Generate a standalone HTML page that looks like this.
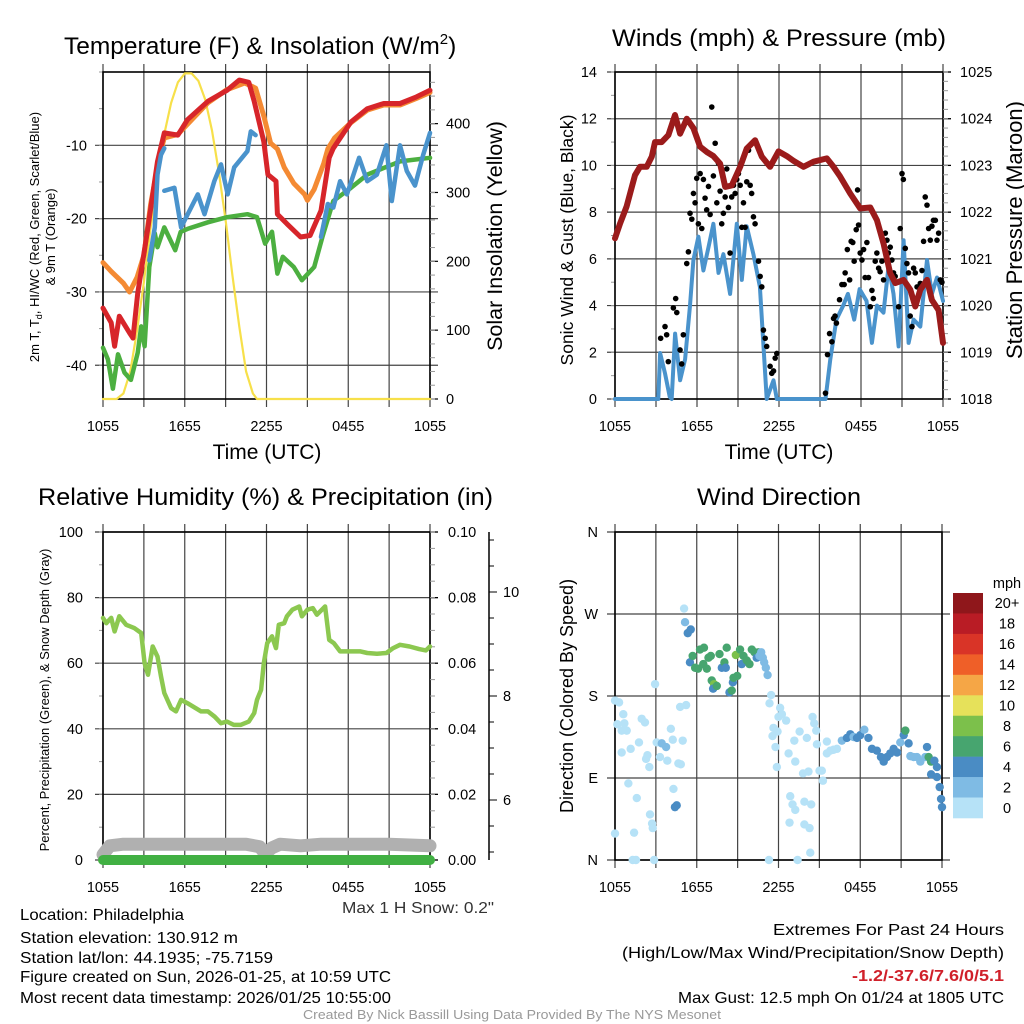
<!DOCTYPE html>
<html><head><meta charset="utf-8"><style>
html,body{margin:0;padding:0;background:#fff;}
svg{display:block;font-family:"Liberation Sans",sans-serif;}
</style></head><body>
<svg id="fig" width="1024" height="1024" viewBox="0 0 1024 1024" xmlns="http://www.w3.org/2000/svg">
<rect width="1024" height="1024" fill="#fff"/>
<text x="64" y="54" font-size="24.5">Temperature (F) &amp; Insolation (W/m<tspan font-size="15" dy="-10">2</tspan><tspan dy="10">)</tspan></text>
<text x="612" y="46" font-size="24.5" textLength="334" lengthAdjust="spacingAndGlyphs">Winds (mph) &amp; Pressure (mb)</text>
<text x="38" y="505" font-size="24.5" textLength="455" lengthAdjust="spacingAndGlyphs">Relative Humidity (%) &amp; Precipitation (in)</text>
<text x="697" y="505" font-size="24.5" textLength="164" lengthAdjust="spacingAndGlyphs">Wind Direction</text>
<text x="267" y="459" font-size="21" text-anchor="middle">Time (UTC)</text>
<text x="779" y="459" font-size="21" text-anchor="middle">Time (UTC)</text>
<text transform="translate(39,237) rotate(-90)" font-size="13" text-anchor="middle">2m T, T<tspan font-size="9" dy="3">d</tspan><tspan dy="-3">, HI/WC (Red, Green, Scarlet/Blue)</tspan></text>
<text transform="translate(55,237) rotate(-90)" font-size="13" text-anchor="middle">&amp; 9m T (Orange)</text>
<text transform="translate(502,236) rotate(-90)" font-size="21.5" text-anchor="middle">Solar Insolation (Yellow)</text>
<text transform="translate(573,240) rotate(-90)" font-size="17.5" text-anchor="middle">Sonic Wind &amp; Gust (Blue, Black)</text>
<text transform="translate(1022,230) rotate(-90)" font-size="22" text-anchor="middle">Station Pressure (Maroon)</text>
<text transform="translate(49,700) rotate(-90)" font-size="13" text-anchor="middle">Percent, Precipitation (Green), &amp; Snow Depth (Gray)</text>
<text transform="translate(573,696) rotate(-90)" font-size="18" text-anchor="middle">Direction (Colored By Speed)</text>
<text x="342" y="913" font-size="16" fill="#333" textLength="152" lengthAdjust="spacingAndGlyphs">Max 1 H Snow: 0.2"</text>
<g font-size="16">
<text x="20" y="920" textLength="164" lengthAdjust="spacingAndGlyphs">Location: Philadelphia</text>
<text x="20" y="943" textLength="218" lengthAdjust="spacingAndGlyphs">Station elevation: 130.912 m</text>
<text x="20" y="963" textLength="253" lengthAdjust="spacingAndGlyphs">Station lat/lon: 44.1935; -75.7159</text>
<text x="20" y="982" textLength="371" lengthAdjust="spacingAndGlyphs">Figure created on Sun, 2026-01-25, at 10:59 UTC</text>
<text x="20" y="1003" textLength="371" lengthAdjust="spacingAndGlyphs">Most recent data timestamp: 2026/01/25 10:55:00</text>
</g>
<g font-size="16">
<text x="773" y="935" textLength="231" lengthAdjust="spacingAndGlyphs">Extremes For Past 24 Hours</text>
<text x="622" y="958" textLength="382" lengthAdjust="spacingAndGlyphs">(High/Low/Max Wind/Precipitation/Snow Depth)</text>
<text x="852" y="981" fill="#d0202a" font-weight="bold" textLength="152" lengthAdjust="spacingAndGlyphs">-1.2/-37.6/7.6/0/5.1</text>
<text x="678" y="1003" textLength="326" lengthAdjust="spacingAndGlyphs">Max Gust: 12.5 mph On 01/24 at 1805 UTC</text>
</g>
<text x="303" y="1019" font-size="12.5" fill="#999" textLength="418" lengthAdjust="spacingAndGlyphs">Created By Nick Bassill Using Data Provided By The NYS Mesonet</text>
<g id="layer"></g>
</svg>
<script>
// ---- data ----
const timeLabels = ["1055","1655","2255","0455","1055"];
const tRedH = [0,0.6,0.85,1.2,1.95,2.2,2.55,3.3,4.0,4.5,5.5,6.2,7.7,9.1,10.0,10.7,11.1,11.8,12.1,12.7,12.8,13.5,14.5,15.2,16.0,16.6,16.9,18.2,19.4,20.6,21.8,23.0,24];
const tRedV = [-32.2,-34.2,-37.4,-33.3,-35.6,-36.3,-30.2,-21.2,-12.2,-8.3,-8.6,-6.5,-4,-2.5,-1.1,-1.4,-4,-9.5,-14,-14.9,-19.4,-20.7,-22.5,-22.3,-18.9,-11.7,-10.4,-6.8,-5,-4.3,-4.3,-3.4,-2.5];
const tOrgH = [0,0.6,1.5,1.95,2.5,3,3.5,4.2,4.5,5.5,7.7,9.1,10.4,11.2,11.8,12.3,12.8,13.3,14,14.8,15.0,15.5,16.2,16.5,17,18.2,19.4,20.6,21.8,23.0,24];
const tOrgV = [-26,-27.2,-28.8,-30,-28,-25,-18,-11,-9,-8.5,-4.2,-2.4,-1.5,-2.2,-6,-9.7,-10.5,-13,-15.2,-16.7,-17.5,-16,-12.5,-10.5,-9,-6.9,-5.2,-4.5,-4.5,-3.6,-2.8];
const tGrnH = [0,0.36,0.73,1.1,1.58,2.05,2.55,2.8,3.05,3.4,3.8,4.0,4.5,5.3,5.7,6.2,7.7,9.1,10.6,11.3,11.9,12.4,12.8,13.2,14.0,14.6,15.5,16.1,16.9,18.2,19.4,21.8,24];
const tGrnV = [-37.6,-39.2,-43.2,-38.5,-41,-42,-38.3,-34.7,-37.4,-26.6,-22,-23.9,-21.2,-24.3,-21.8,-21.4,-20.5,-19.8,-19.4,-19.8,-23.4,-21.8,-27.5,-25.2,-26.6,-28.4,-26.6,-22.5,-17.6,-15.8,-14,-12.2,-11.7];
const tBlu1H = [3.4,3.8,4.0,4.26,4.5];
const tBlu1V = [-25.7,-21.2,-14,-11.3,-10.4];
const tBlu2H = [4.5,5.24,5.73,6.22,6.96,7.45,8.17,8.66,9.15,9.63,10.6,10.85,11.2];
const tBlu2V = [-16.2,-15.8,-21.2,-19.4,-16.7,-19.4,-14.9,-12.6,-16.7,-13,-10.8,-8.1,-8.6];
const tBlu3H = [16.0,16.5,16.9,17.4,17.9,18.8,19.4,20.1,20.8,21.2,21.8,22.3,22.9,23.5,24];
const tBlu3V = [-22.5,-18,-18.5,-14.9,-16.7,-11.7,-14.9,-14,-10,-17.6,-10,-13.5,-15.5,-11.3,-8.3];
const solarH = [0,1.0,1.5,2,2.5,3,3.5,4,4.5,5,5.5,6,6.5,7,7.5,8,8.5,9,9.5,10,10.5,11,11.3,24];
const solarV = [0,0,8,40,100,170,250,320,385,430,460,473,473,462,435,390,330,260,180,105,40,8,0,0];

const presH = [0,.37,.85,1.46,1.83,2.32,2.69,2.93,3.42,3.91,4.39,4.76,5.25,5.74,6.23,6.71,7.2,7.69,8.06,8.54,9.16,9.64,10.25,10.74,11.35,11.96,12.57,13.06,13.79,14.53,15.5,15.99,16.48,17.21,17.94,18.68,19.16,19.65,20.14,20.51,21.12,21.61,21.97,22.34,22.83,23.19,23.68,24];
const presV = [1021.44,1021.76,1022.12,1022.79,1022.97,1022.97,1023.19,1023.5,1023.5,1023.65,1024.08,1023.68,1024.0,1023.8,1023.4,1023.29,1023.2,1023.04,1022.54,1022.57,1022.97,1023.36,1023.54,1023.19,1022.97,1023.3,1023.2,1023.1,1022.97,1023.08,1023.15,1022.97,1022.76,1022.4,1022.08,1022.1,1021.83,1021.33,1020.69,1020.48,1020.55,1020.34,1019.98,1020.34,1020.55,1020.12,1019.9,1019.2];
const windH = [0,3.17,3.3,3.66,4.0,4.15,4.4,4.76,5.13,5.49,5.74,6.1,6.47,6.84,7.2,7.57,7.93,8.42,8.91,9.28,9.64,10.13,10.6,11.1,11.6,11.84,15.4,15.75,16.2,16.7,17.04,17.5,17.9,18.4,18.8,19.17,19.65,20.02,20.38,20.75,21.12,21.48,21.85,22.34,22.83,23.19,23.56,24];
const windV = [0,0,1.97,1.1,0.1,0,2.8,0.8,1.7,4.0,5.95,6.95,5.5,6.5,7.5,5.4,6.2,4.5,7.5,5.1,7.4,6.2,4.8,0,0.8,0,0,1.7,3.4,4,4.5,3.4,4.7,4.2,2.4,4,3.7,5.7,4.5,2.25,6.8,2.4,3.4,3.1,5.95,4.5,5.2,4.2];
const gustH = [3.34,3.66,3.78,3.9,4.27,4.44,4.52,4.76,4.88,5,5.25,5.37,5.49,5.62,5.74,5.86,5.98,6.1,6.23,6.35,6.47,6.59,6.71,6.84,6.96,7.08,7.2,7.33,7.45,7.57,7.69,7.81,7.93,8.06,8.18,8.3,8.42,8.54,8.67,8.79,8.91,9.03,9.16,9.28,9.4,9.52,9.64,9.77,9.89,10,10.13,10.25,10.5,10.62,10.74,10.86,10.99,11.1,11.35,11.47,11.6,11.72,11.84,15.4,15.55,15.7,15.87,15.99,16.1,16.2,16.43,16.6,16.77,16.84,17,17.17,17.28,17.4,17.5,17.65,17.75,17.82,17.94,18.07,18.19,18.3,18.43,18.55,18.68,18.8,18.9,19.04,19.16,19.29,19.4,19.53,19.65,19.78,19.9,20,20.14,20.26,20.38,20.5,20.75,20.87,21,21.1,21.24,21.36,21.48,21.6,21.73,21.85,21.97,22.1,22.34,22.46,22.58,22.7,22.83,22.95,23.07,23.19,23.3,23.44,23.56,23.68,23.8,23.92];
const gustV = [2.6,3.1,2.75,1.6,3.9,4.3,3.7,2.1,1.5,2.75,5.8,6.3,7.95,7.7,8.8,8.4,9.45,7.5,9.65,7.3,9.4,8.6,8.1,9.1,7.9,12.5,9.55,10.95,8.4,10.1,8.9,7.5,7.95,8.65,9.85,8.2,6.25,8.65,9.15,8.8,9.4,9.65,9.15,7.35,8.4,7.35,9.3,10.65,9.15,8.8,7.8,7.5,5.9,5.25,4.8,2.95,2.6,2.25,1.4,1.1,1.2,1.75,1.95,0.25,1.9,2.8,2.45,3.45,3.55,3.25,4.25,4.9,4.9,5.4,6.4,5.1,6.75,6.7,5.9,7.25,8.95,7.45,6.25,5.95,6.4,5.2,6.7,5.2,3.95,4.65,4.3,5.9,6.25,5.6,5.45,5.9,5.1,7.1,6.8,6.25,6.5,5.95,5.4,5.25,3.95,7.3,9.65,9.4,6.45,5.8,5.4,3.55,3.1,5.6,5.4,4.8,4.95,5.5,6.75,8.65,8.3,7.3,6.8,7.4,7.65,7.65,6.8,7.1,5.1,5.0];

const rhH = [0,.24,.6,.85,1.2,1.7,2.3,2.8,3.05,3.3,3.65,4.0,4.26,4.5,5,5.36,5.73,6.2,7.2,7.7,8.2,8.65,9.1,9.6,10.1,10.7,11.1,11.3,11.6,11.8,12.05,12.4,12.7,12.9,13.3,13.5,13.9,14.4,14.6,15,15.4,15.7,16.3,16.6,16.95,17.4,18.2,18.9,19.4,20.1,20.8,21.3,21.8,22.5,23.2,23.7,24];
const rhV = [73.8,72.2,73.8,69.7,74.3,71.7,70.7,69.2,60,56.5,65.1,62,56,50.9,46.3,45.3,48.8,47.8,45.3,45.3,43.7,41.7,42.2,41.2,41.2,42.2,44.8,48.8,51.9,60,66.1,68.2,64.6,71.7,72.2,74.3,76.3,77.3,74.3,76.3,76.8,74.8,77.3,67.1,66.1,63.6,63.6,63.6,63.1,62.9,63.1,64.6,65.6,65.1,64.3,63.9,65.1];
const precipH = [0,24];
const precipV = [0,0];
const snowH = [0,0.5,1.5,3,6,9,10.5,11.5,11.9,12.4,13,14.5,16,18,21,24];
const snowV = [4.95,5.12,5.15,5.15,5.15,5.15,5.15,5.1,4.97,5.08,5.15,5.12,5.15,5.15,5.15,5.12];

const dirH = [0,0,.3,.17,.49,.61,.69,.86,.49,.98,1.15,1.4,1.6,1.3,1.54,1.76,1.96,2.2,2.28,2.38,2.52,2.57,2.72,2.77,2.87,2.94,3.06,3.3,3.43,3.75,3.84,4.1,4.29,4.4,4.53,4.24,4.65,4.83,4.78,4.97,5.22,5.07,5.14,5.34,5.56,5.5,5.7,5.88,6.1,6.24,6.48,6.53,6.74,6.86,7.03,7.1,7.27,7.2,7.47,7.67,7.84,8.03,8.13,8.2,8.4,8.57,8.65,8.7,8.87,8.97,9.18,9.3,9.43,9.67,9.87,10.04,10.24,10.4,10.53,10.6,10.73,10.85,10.95,11.07,11.2,11.46,11.34,12.12,12.25,12.0,12.56,11.63,11.93,11.56,11.78,11.88,12.74,13.23,12.86,13.03,13.23,12.81,11.3,13.4,13.55,13.16,14.08,13.8,14.2,13.9,14.4,13.9,14.28,14.33,14.5,14.62,14.77,14.82,15.01,15.26,15.18,15.55,15.8,16.04,15.55,16.29,16.65,17.02,17.27,17.51,17.76,18.0,18.3,18.6,18.86,19.22,19.52,19.72,19.96,20.2,20.45,20.7,20.94,21.19,21.31,21.55,21.68,21.92,22.16,22.41,22.77,22.9,23.02,23.2,23.44,23.63,23.2,23.63,23.83,23.93,24];
const dirDeg = [29,175,173,149,142,160,150,142,118,84,122,30,68,0,0,129,155,151,111,115,102,50,40,35,0,193,129,113,128,124,109,144,78,58,60,132,106,105,168,131,170,276,261,249,253,217,224,211,210,231,215,233,210,222,224,197,193,188,191,226,211,217,211,233,184,186,195,200,225,202,231,215,224,219,215,231,228,222,228,224,228,222,217,211,203,181,172,167,160,157,153,145,141,136,124,102,117,108,70,61,55,41,0,0,141,131,134,95,97,64,61,39,35,8,157,150,142,127,98,87,98,130,120,121,117,122,131,134,138,135,134,137,143,134,122,120,113,108,113,117,122,118,129,137,142,128,114,113,113,108,113,124,113,108,109,102,94,91,80,67,58];
const dirSpd = [1,1,1,1,1,1,1,1,1,1,1,1,1,1,1,1,1,1,1,1,1,1,1,1,1,1,1,1,2,2,1,1,1,4,4,1,1,1,1,1,1,1,2,4,4,4,6,6,6,6,6,6,6,6,6,6,8,4,6,6,4,6,4,6,4,6,4,6,8,6,6,4,6,6,6,6,6,4,6,3,3,3,3,3,3,1,1,1,1,1,1,1,1,1,1,1,1,1,1,1,1,1,1,1,1,1,1,1,1,1,1,1,1,1,1,1,1,1,1,1,1,1,1,1,1,1,3,4,4,3,4,4,3,4,4,4,4,4,4,4,4,4,3,4,6,4,3,3,3,3,3,4,6,6,4,4,4,4,4,4,4,4];
const legendLabels = ["20+","18","16","14","12","10","8","6","4","2","0"];
const legendColors = ["#8f171b","#b91c25","#d93427","#ef5f28","#f5a646","#e6e15a","#7cc04b","#47a56f","#4a8cc4","#7fbbe4","#b6e2f7"];

// ---- drawing ----
const NS = "http://www.w3.org/2000/svg";
const layer = document.getElementById("layer");
function el(tag, attrs, parent){
  const e = document.createElementNS(NS, tag);
  for (const k in attrs) e.setAttribute(k, attrs[k]);
  (parent||layer).appendChild(e);
  return e;
}
function lin(d0,d1,r0,r1){ return v => r0 + (v-d0)/(d1-d0)*(r1-r0); }

function frame(name, x0,x1,y0,y1, yScale, majors, minors, labels, leftLabX){
  const g = el("g",{});
  
  
  const xs = lin(0,24,x0,x1);
  for (let h=0; h<=24; h+=3){
    const x = xs(h);
    el("line",{x1:x,x2:x,y1:y0-8,y2:y1+8,stroke:"#444","stroke-width":1.2},g);
  }
  timeLabels.forEach((t,i)=>{
    const tx = el("text",{x:xs(i*6),y:y1+32,"font-size":14.5,"text-anchor":"middle"},g);
    tx.textContent = t;
  });
  majors.forEach((v,i)=>{
    const y = yScale(v);
    el("line",{x1:x0-8,x2:x1+8,y1:y,y2:y,stroke:"#444","stroke-width":1.2},g);
    const tx = el("text",{x:leftLabX,y:y+5,"font-size":14.5,"text-anchor":"end"},g);
    tx.textContent = labels[i];
  });
  minors.forEach(v=>{
    const y = yScale(v);
    el("line",{x1:x0-4,x2:x0,y1:y,y2:y,stroke:"#999","stroke-width":1},g);
  });
  el("rect",{x:x0,y:y0,width:x1-x0,height:y1-y0,fill:"none",stroke:"#000","stroke-width":1.6},g);
  return xs;
}
function rightAxis(name,x1,scale,majors,minors,labels,labX){
  const g = el("g",{});
  
  
  majors.forEach((v,i)=>{
    const y = scale(v);
    el("line",{x1:x1,x2:x1+8,y1:y,y2:y,stroke:"#000","stroke-width":1.2},g);
    const tx = el("text",{x:labX,y:y+5,"font-size":14.5},g);
    tx.textContent = labels[i];
  });
  minors.forEach(v=>{
    const y = scale(v);
    el("line",{x1:x1,x2:x1+5,y1:y,y2:y,stroke:"#999","stroke-width":1},g);
  });
}
function path(name, H, V, xs, ys, color, w, cap){
  let d = "";
  H.forEach((h,i)=>{ d += (i?"L":"M") + xs(h).toFixed(1) + " " + ys(V[i]).toFixed(1); });
  const p = el("path",{d:d,fill:"none",stroke:color,"stroke-width":w,"stroke-linejoin":"round","stroke-linecap":cap||"round"});
  
  
  return p;
}
function range(a,b,s){ const r=[]; for(let v=a; v<=b+1e-9; v+=s) r.push(+v.toFixed(4)); return r; }

// Panel 1: temperature
const t_y = lin(-44.6,0,399,72);
const xs1 = frame("temperature-panel",103,430,72,399,t_y,[-10,-20,-30,-40],range(-40,0,5),["-10","-20","-30","-40"],87);
const sol_y = lin(0,475,399,72);
rightAxis("solar-axis",430,sol_y,[0,100,200,300,400],range(0,460,20),["0","100","200","300","400"],446);
path("solar-line",solarH,solarV,xs1,sol_y,"#f7e04a",2.2);
path("temp-9m-orange",tOrgH,tOrgV,xs1,t_y,"#f48a33",5);
path("temp-2m-red",tRedH,tRedV,xs1,t_y,"#d7252a",5);
path("dewpoint-green",tGrnH,tGrnV,xs1,t_y,"#4caf40",4.5);
path("windchill-blue-1",tBlu1H,tBlu1V,xs1,t_y,"#4a93cc",4.5);
path("windchill-blue-2",tBlu2H,tBlu2V,xs1,t_y,"#4a93cc",4.5);
path("windchill-blue-3",tBlu3H,tBlu3V,xs1,t_y,"#4a93cc",4.5);

// Panel 2: wind & pressure
const w_y = lin(0,14,399,72);
const xs2 = frame("wind-panel",615,943,72,399,w_y,[0,2,4,6,8,10,12,14],range(0,14,1),["0","2","4","6","8","10","12","14"],597);
const p_y = lin(1018,1025,399,72);
rightAxis("pressure-axis",943,p_y,[1018,1019,1020,1021,1022,1023,1024,1025],range(1018,1025,0.2),["1018","1019","1020","1021","1022","1023","1024","1025"],960);
path("wind-speed-line",windH,windV,xs2,w_y,"#4a93cc",4);
gustH.forEach((h,i)=>{
  const c = el("circle",{cx:xs2(h),cy:w_y(gustV[i]),r:2.8,fill:"#000"});
  
  
});
path("pressure-line",presH,presV,xs2,p_y,"#9b1b1b",6);

// Panel 3: RH & precip
const rh_y = lin(0,100,860,532);
const xs3 = frame("rh-panel",103,430,532,860,rh_y,[0,20,40,60,80,100],range(0,100,10),["0","20","40","60","80","100"],83);
const pr_y = lin(0,0.1,860,532);
rightAxis("precip-axis",430,pr_y,[0,0.02,0.04,0.06,0.08,0.1],range(0,0.1,0.005),["0.00","0.02","0.04","0.06","0.08","0.10"],448);
const sn_y = lin(6,8,800,696);
const sg = el("g",{});


el("line",{x1:489,x2:489,y1:532,y2:860,stroke:"#000","stroke-width":1.5},sg);
range(5,11,0.5).forEach(v=>{
  const y = sn_y(v);
  if (y<532||y>860) return;
  const maj = Math.abs(v-Math.round(v/2)*2)<1e-6;
  el("line",{x1:489,x2:maj?497:494,y1:y,y2:y,stroke:"#000","stroke-width":1},sg);
  if (maj){ const t=el("text",{x:503,y:y+5,"font-size":14.5},sg); t.textContent=String(v); }
});
path("snow-depth-line",snowH,snowV,xs3,sn_y,"#b0b0b0",13);
path("precip-line",precipH,precipV,xs3,pr_y,"#41b043",10);
path("rh-line",rhH,rhV,xs3,rh_y,"#8cc850",4.5);

// Panel 4: wind direction
const d_y = lin(0,360,860,532);
const xs4 = frame("direction-panel",615,942,532,860,d_y,[0,90,180,270,360],[],["N","E","S","W","N"],598);
function spdColor(s){
  const idx = Math.min(10, Math.floor(s/2));
  return legendColors[10-idx];
}
dirH.forEach((h,i)=>{
  const c = el("circle",{cx:xs4(h),cy:d_y(dirDeg[i]),r:4.2,fill:spdColor(dirSpd[i])});
  
  
});
const lg = el("g",{});


const mt = el("text",{x:1007,y:588,"font-size":14.5,"text-anchor":"middle"},lg);
mt.textContent = "mph";
const bh = (818-593)/11;
legendLabels.forEach((lab,i)=>{
  const r = el("rect",{x:953,y:593+i*bh,width:30,height:bh+0.3,fill:legendColors[i]},lg);
  
  
  const t = el("text",{x:1007,y:593+i*bh+bh/2+5,"font-size":14.5,"text-anchor":"middle"},lg);
  t.textContent = lab;
});
</script>
</body></html>
